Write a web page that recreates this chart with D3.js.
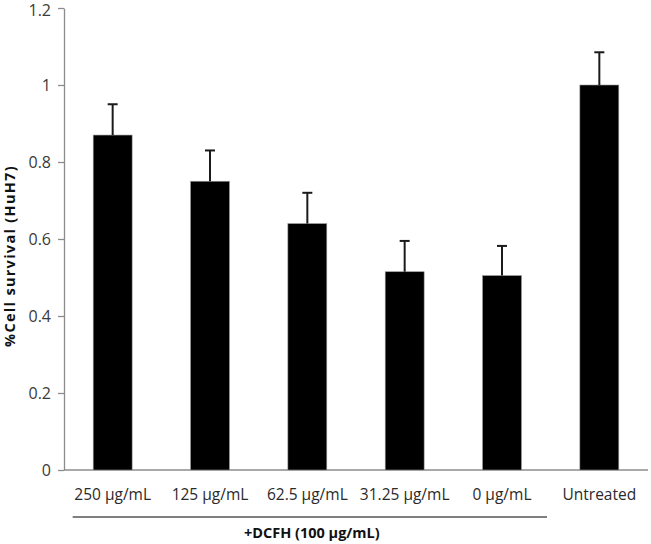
<!DOCTYPE html>
<html>
<head>
<meta charset="utf-8">
<script src="https://cdn.jsdelivr.net/npm/d3@7"></script>
<style>
  html, body { margin: 0; padding: 0; background: #fff; }
  svg { display: block; }
  text { font-family: "Open Sans", "Noto Sans", sans-serif; }
</style>
</head>
<body>
<script>
const categories = ["250 μg/mL", "125 μg/mL", "62.5 μg/mL", "31.25 μg/mL", "0 μg/mL", "Untreated"];
const values = [0.87, 0.75, 0.64, 0.515, 0.505, 1.0];
const errors = [0.08, 0.08, 0.08, 0.08, 0.077, 0.085];
const yTicks = [0, 0.2, 0.4, 0.6, 0.8, 1, 1.2];
const yTitle = "%Cell survival (HuH7)";
const groupLabel = "+DCFH (100 μg/mL)";
const groupMembers = categories.slice(0, 5);

const W = 651, H = 544;
const svg = d3.select("body").append("svg").attr("width", W).attr("height", H);

const x = d3.scaleBand().domain(categories).range([64, 648]).paddingInner(0.6).paddingOuter(0.3);
const y = d3.scaleLinear().domain([0, 1.2]).range([470, 8]);

// y axis
const yAxis = d3.axisLeft(y).tickValues(yTicks).tickSize(6).tickSizeOuter(0)
  .tickFormat(d => d === 0 ? "0" : d3.format("~g")(d));
const gy = svg.append("g").attr("transform", "translate(64,0)").call(yAxis);
gy.select(".domain").attr("stroke", "#8c8c8c").attr("stroke-width", 1.3);
gy.selectAll(".tick line").attr("stroke", "#8c8c8c").attr("stroke-width", 1.3);
gy.selectAll(".tick text").attr("x", -13).attr("font-size", 16).attr("fill", "#3a3a3a")
  .attr("dy", d => d === 1.2 ? "0.45em" : "0.32em")
  .attr("font-family", "'Open Sans', sans-serif");

// x axis line
svg.append("line").attr("x1", 64).attr("x2", 648).attr("y1", y(0)).attr("y2", y(0))
  .attr("stroke", "#8c8c8c").attr("stroke-width", 1.3);

// bars
svg.selectAll("rect.bar").data(categories).enter().append("rect")
  .attr("class", "bar")
  .attr("x", d => x(d))
  .attr("width", x.bandwidth())
  .attr("y", (d, i) => y(values[i]))
  .attr("height", (d, i) => y(0) - y(values[i]))
  .attr("fill", "#000")
  .attr("stroke", "#999").attr("stroke-width", 0.6);

// error bars (upper only)
const eg = svg.append("g").attr("stroke", "#1a1a1a").attr("stroke-width", 2);
categories.forEach((c, i) => {
  const cx = x(c) + x.bandwidth() / 2;
  eg.append("line").attr("x1", cx).attr("x2", cx)
    .attr("y1", y(values[i])).attr("y2", y(values[i] + errors[i]));
  eg.append("line").attr("x1", cx - 5).attr("x2", cx + 5)
    .attr("y1", y(values[i] + errors[i])).attr("y2", y(values[i] + errors[i]));
});

// x labels
svg.selectAll("text.xl").data(categories).enter().append("text")
  .attr("class", "xl")
  .attr("x", d => x(d) + x.bandwidth() / 2)
  .attr("y", 500)
  .attr("text-anchor", "middle")
  .attr("font-size", 15.5)
  .attr("fill", "#2a2a2a")
  .text(d => d);

// group bracket line
const gx1 = x(groupMembers[0]) + x.bandwidth() / 2 - 40;
const gx2 = x(groupMembers[groupMembers.length - 1]) + x.bandwidth() / 2 + 45;
svg.append("line").attr("x1", gx1).attr("x2", gx2).attr("y1", 517).attr("y2", 517)
  .attr("stroke", "#000").attr("stroke-width", 1.2);
svg.append("text").attr("x", (gx1 + gx2) / 2 + 2).attr("y", 538)
  .attr("text-anchor", "middle").attr("font-size", 14.5).attr("font-weight", "bold")
  .attr("fill", "#111").text(groupLabel);

// y title
svg.append("text")
  .attr("transform", `translate(15,256) rotate(-90)`)
  .attr("text-anchor", "middle").attr("font-size", 14.5).attr("font-weight", "bold")
  .attr("letter-spacing", 1.3)
  .attr("fill", "#111").text(yTitle);
</script>
</body>
</html>
